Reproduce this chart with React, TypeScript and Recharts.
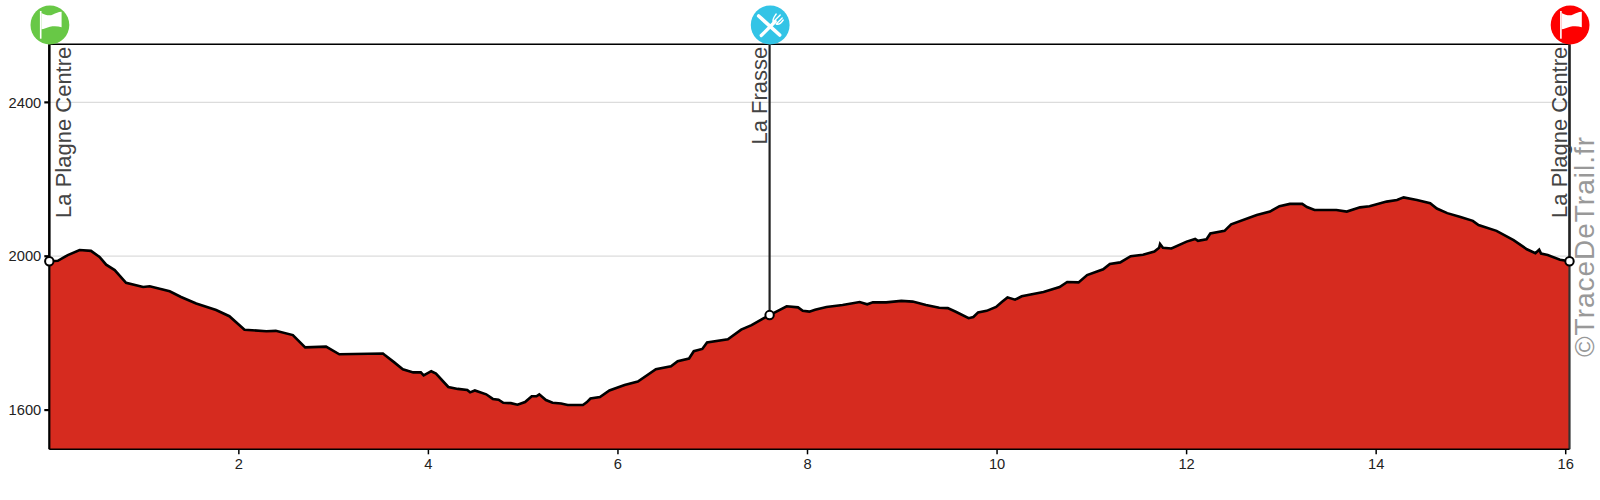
import { Area, AreaChart, CartesianGrid, ReferenceDot, ReferenceLine, XAxis, YAxis } from 'recharts'

const distanceKm = [
  0, 0.09, 0.195, 0.32, 0.44, 0.53, 0.6, 0.69, 0.81, 0.99, 1.06, 1.27, 1.39, 1.55, 1.76, 1.9, 2.06, 2.29, 2.39, 2.57,
  2.7, 2.92, 3.06, 3.52, 3.54, 3.64, 3.73, 3.84, 3.92, 3.95, 4.03, 4.08, 4.21, 4.31, 4.41, 4.44, 4.49, 4.61, 4.68, 4.74,
  4.79, 4.87, 4.94, 5.02, 5.09, 5.14, 5.17, 5.24, 5.31, 5.4, 5.47, 5.56, 5.63, 5.67, 5.71, 5.81, 5.91, 6.07, 6.21, 6.4,
  6.56, 6.63, 6.75, 6.8, 6.89, 6.94, 7.16, 7.3, 7.41, 7.53, 7.6, 7.78, 7.9, 7.95, 8.02, 8.08, 8.2, 8.37, 8.55, 8.63,
  8.69, 8.83, 8.99, 9.11, 9.25, 9.39, 9.48, 9.57, 9.7, 9.75, 9.8, 9.89, 9.99, 10.05, 10.11, 10.19, 10.26, 10.49, 10.66, 10.74,
  10.86, 10.95, 11.12, 11.19, 11.3, 11.41, 11.54, 11.66, 11.71, 11.72, 11.75, 11.84, 12.0, 12.09, 12.12, 12.21, 12.25, 12.4, 12.47, 12.74,
  12.88, 12.98, 13.09, 13.22, 13.27, 13.35, 13.58, 13.69, 13.83, 13.93, 14.11, 14.22, 14.29, 14.43, 14.57, 14.64, 14.75, 14.89, 15.02, 15.08,
  15.27, 15.45, 15.59, 15.68, 15.72, 15.74, 15.81, 15.94, 16.04,
]

const elevationM = [
  1987, 1988, 2003, 2016, 2014, 1998, 1978, 1964, 1931, 1920, 1922, 1909, 1894, 1877, 1860, 1844, 1809, 1805, 1806, 1795,
  1763, 1765, 1745, 1747, 1743, 1724, 1706, 1698, 1698, 1690, 1701, 1695, 1660, 1655, 1652, 1646, 1651, 1641, 1629, 1627,
  1619, 1618, 1614, 1621, 1636, 1636, 1641, 1626, 1619, 1617, 1613, 1613, 1613, 1620, 1630, 1634, 1651, 1665, 1674, 1706,
  1714, 1727, 1734, 1753, 1759, 1776, 1784, 1809, 1821, 1838, 1847, 1870, 1867, 1858, 1856, 1861, 1868, 1873, 1881, 1875,
  1880, 1880, 1884, 1882, 1873, 1866, 1865, 1855, 1839, 1842, 1854, 1858, 1868, 1881, 1893, 1887, 1896, 1907, 1920, 1933,
  1932, 1951, 1966, 1980, 1984, 2000, 2004, 2012, 2022, 2032, 2022, 2020, 2038, 2045, 2040, 2044, 2059, 2066, 2083, 2107,
  2116, 2130, 2136, 2136, 2128, 2120, 2120, 2116, 2127, 2130, 2142, 2146, 2153, 2146, 2138, 2124, 2112, 2102, 2092, 2081,
  2066, 2042, 2018, 2008, 2017, 2007, 2003, 1991, 1987,
]

const xTicks = [2, 4, 6, 8, 10, 12, 14, 16]
const yTicks = [1600, 2000, 2400]

const waypointKm = [0, 7.6, 16.04]
const waypointElevation = [1987, 1847, 1987]
const waypointNames = ['La Plagne Centre', 'La Frasse', 'La Plagne Centre']
const waypointColors = ['#68c846', '#33c4e6', '#fe0000']
const waypointIcons = ['flag', 'food', 'flag']

const X_MAX = 16.04
const Y_MIN = 1498
const Y_MAX = 2551

const FONT = '"Liberation Sans", Arial, sans-serif'

const profile = distanceKm.map((km, i) => ({ km, elevation: elevationM[i] }))

function FlagIcon() {
  return (
    <g fill="#fff">
      <rect x={-10} y={-14} width={1.6} height={27.7} />
      <path d="M-8.5,-12 C-4,-9.5 0,-9 3,-10.5 C6,-12 9,-13.5 11.7,-13.3 L11.7,2.3 C8,1 4,1 0,1.7 C-3,2.5 -6,4 -8.5,4.3 Z" />
    </g>
  )
}

function FoodIcon() {
  return (
    <g stroke="#fff" fill="none" strokeLinecap="round">
      <path d="M-11.5,-9 L9.5,10" strokeWidth={3.6} />
      <path d="M-9,10.5 L5,-3.5" strokeWidth={3.2} />
      <path d="M4,-4 L10,-10 M6.5,-1.5 L12,-7 M3,-3 C2,-6 4,-8 6,-11 M6,-1 C9,0 11,-2 13,-5" strokeWidth={1.4} />
    </g>
  )
}

// circle with its icon above the plot, name rotated along the vertical line
function Waypoint({ cx, cy, index }: { cx?: number; cy?: number; index: number }) {
  const x = cx ?? 0
  const y = cy ?? 0
  const baseline = index === 0 ? x + 21.7 : x - 2.6
  return (
    <g>
      <g transform={`translate(${x + 0.6},${y - 19.3})`}>
        <circle r={19.4} fill={waypointColors[index]} />
        {waypointIcons[index] === 'flag' ? <FlagIcon /> : <FoodIcon />}
      </g>
      <text
        transform={`translate(${baseline},${y + 2.4}) rotate(-90)`}
        textAnchor="end"
        fontFamily={FONT}
        fontSize={22}
        fill="#444"
      >
        {waypointNames[index]}
      </text>
    </g>
  )
}

export default function App() {
  const tickStyle = { fontFamily: FONT, fontSize: 14.7, fill: '#222' }
  return (
    <div style={{ position: 'absolute', left: 0, top: 0, width: 1600, height: 500, background: '#fff' }}>
      <AreaChart
        width={1600}
        height={500}
        data={profile}
        margin={{ top: 44.3, right: 30.5, bottom: 0, left: 0 }}
      >
        <CartesianGrid vertical={false} stroke="#dcdcdc" strokeWidth={1.2} />
        <XAxis
          dataKey="km"
          type="number"
          domain={[0, X_MAX]}
          ticks={xTicks}
          interval={0}
          height={50.7}
          tick={tickStyle}
          tickSize={5}
          tickMargin={4}
          stroke="#000"
          strokeWidth={1.5}
        />
        <YAxis
          type="number"
          domain={[Y_MIN, Y_MAX]}
          ticks={yTicks}
          interval={0}
          width={49.3}
          tick={tickStyle}
          tickSize={5}
          tickMargin={3}
          stroke="#000"
          strokeWidth={2.2}
        />
        <Area
          dataKey="elevation"
          type="linear"
          fill="#d62b1f"
          fillOpacity={1}
          stroke="#000"
          strokeWidth={2.6}
          dot={false}
          activeDot={false}
          isAnimationActive={false}
        />
        <ReferenceLine y={Y_MAX} stroke="#000" strokeWidth={1.5} />
        <ReferenceLine x={X_MAX} stroke="#333" strokeWidth={2.2} ifOverflow="visible" />
        {waypointKm.map((km, i) => (
          <ReferenceLine
            key={`line-${i}`}
            segment={[
              { x: km, y: waypointElevation[i] },
              { x: km, y: Y_MAX },
            ]}
            stroke="#222"
            strokeWidth={2.2}
            ifOverflow="visible"
          />
        ))}
        {waypointKm.map((km, i) => (
          <ReferenceDot
            key={`dot-${i}`}
            x={km}
            y={waypointElevation[i]}
            r={4.2}
            fill="#fff"
            stroke="#000"
            strokeWidth={2}
            ifOverflow="visible"
          />
        ))}
        {waypointKm.map((km, i) => (
          <ReferenceDot
            key={`marker-${i}`}
            x={km}
            y={Y_MAX}
            ifOverflow="visible"
            shape={(props: { cx?: number; cy?: number }) => <Waypoint cx={props.cx} cy={props.cy} index={i} />}
          />
        ))}
        <text
          transform="translate(1594,357) rotate(-90)"
          fontFamily={FONT}
          fontSize={28}
          textLength={220}
          fill="#999"
        >
          ©TraceDeTrail.fr
        </text>
      </AreaChart>
    </div>
  )
}
